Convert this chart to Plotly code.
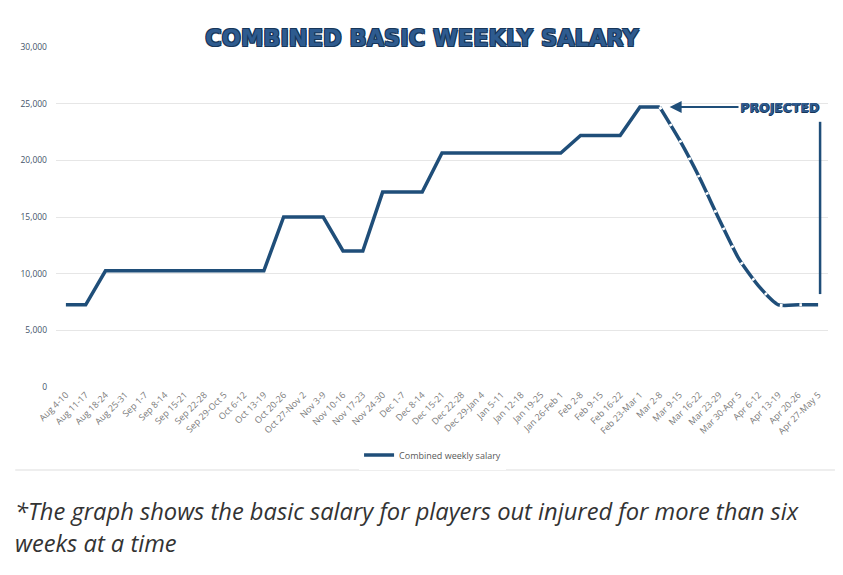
import plotly.graph_objects as go

weeks = ["Aug 4-10", "Aug 11-17", "Aug 18-24", "Aug 25-31", "Sep 1-7", "Sep 8-14",
         "Sep 15-21", "Sep 22-28", "Sep 29-Oct 5", "Oct 6-12", "Oct 13-19", "Oct 20-26",
         "Oct 27-Nov 2", "Nov 3-9", "Nov 10-16", "Nov 17-23", "Nov 24-30", "Dec 1-7",
         "Dec 8-14", "Dec 15-21", "Dec 22-28", "Dec 29-Jan 4", "Jan 5-11", "Jan 12-18",
         "Jan 19-25", "Jan 26-Feb 1", "Feb 2-8", "Feb 9-15", "Feb 16-22", "Feb 23-Mar 1",
         "Mar 2-8", "Mar 9-15", "Mar 16-22", "Mar 23-29", "Mar 30-Apr 5", "Apr 6-12",
         "Apr 13-19", "Apr 20-26", "Apr 27-May 5"]

actual_salary = [7250, 7250, 10250, 10250, 10250, 10250, 10250, 10250, 10250, 10250,
                 10250, 15000, 15000, 15000, 12000, 12000, 17200, 17200, 17200, 20650,
                 20650, 20650, 20650, 20650, 20650, 20650, 22200, 22200, 22200, 24700,
                 24700]
projected_weeks = weeks[30:]
projected_salary = [24700, 21800, 18500, 14800, 11300, 8900, 7250, 7250, 7250]

y_ticks = [0, 5000, 10000, 15000, 20000, 25000, 30000]

BLUE = "#1f4e79"
TICK = "#7a7a7a"

# page has an 8px body margin: figure is placed at (8, 8)
OFF = 8
W, H = 843 - OFF, 575 - OFF
PL, PR, PT, PB = 51 - OFF, 828 - OFF, 47 - OFF, 387 - OFF  # plot area in figure px
PW, PH = PR - PL, PB - PT


def px(xp):
    return (xp - OFF - PL) / PW


def py(yp):
    return (PB - (yp - OFF)) / PH


fig = go.Figure()
fig.add_trace(go.Scatter(x=weeks[:31], y=actual_salary, mode="lines",
                         name="Combined weekly salary",
                         line=dict(color=BLUE, width=3.5)))
fig.add_trace(go.Scatter(x=projected_weeks, y=projected_salary, mode="lines",
                         showlegend=False, hoverinfo="skip",
                         line=dict(color=BLUE, width=3.5, shape="spline", smoothing=0.6)))
fig.add_trace(go.Scatter(x=projected_weeks, y=projected_salary, mode="lines",
                         showlegend=False, hoverinfo="skip",
                         line=dict(color="white", width=3, shape="spline", smoothing=0.6,
                                   dash="2.5px,17px")))

fig.update_layout(
    width=W, height=H,
    margin=dict(l=PL, r=W - PR, t=PT, b=H - PB),
    paper_bgcolor="white", plot_bgcolor="white",
    font=dict(family="Open Sans, DejaVu Sans, sans-serif"),
    title=dict(text="COMBINED BASIC WEEKLY SALARY", xref="container",
               x=(422 - OFF) / W, xanchor="center",
               y=1 - (38 - OFF) / H, yanchor="middle",
               font=dict(family="DejaVu Sans", size=22.5, color="#2e5b8f", weight="bold",
                         shadow="1px 1px 0 #173659, -1px -1px 0 #173659, 1px -1px 0 #173659, -1px 1px 0 #173659")),
    showlegend=True,
    legend=dict(orientation="h", x=px(430), xanchor="center", y=py(455), yanchor="middle",
                font=dict(size=9, color="#595959"), itemwidth=30),
    xaxis=dict(type="category", range=[-0.5, 38.5], tickangle=-45,
               tickfont=dict(size=9, color=TICK), showgrid=False, zeroline=False,
               showline=False, ticks=""),
    yaxis=dict(range=[0, 30000], tickvals=y_ticks, tickformat=",",
               tickfont=dict(size=8.5, color="#44546a"), gridcolor="#e6e6e6",
               zeroline=False, showline=False, ticks="", ticklabelstandoff=8),
)

fig.add_annotation(x=30.5, y=24700, xref="x", yref="y",
                   ax=36.05, ay=24700, axref="x", ayref="y",
                   text="<b>PROJECTED</b>", showarrow=True, arrowhead=2, arrowsize=1.2,
                   arrowwidth=2, arrowcolor=BLUE,
                   font=dict(family="DejaVu Sans", size=12.5, color="#2e5b8f",
                             shadow="1px 0px 0 #173659, 0px 1px 0 #173659"))
fig.add_shape(type="line", xref="x", yref="y", x0=38.1, x1=38.1, y0=23400, y1=8200,
              line=dict(color=BLUE, width=2.5))
fig.add_shape(type="line", xref="paper", yref="paper",
              x0=px(10), x1=px(835), y0=py(470), y1=py(470),
              line=dict(color="#dddddd", width=1))
fig.add_annotation(xref="paper", yref="paper", x=px(8), y=py(511),
                   xanchor="left", yanchor="middle", showarrow=False,
                   text="<i>*The graph shows the basic salary for players out injured for more than six</i>",
                   font=dict(family="Open Sans", size=23.7, color="#333333"))
fig.add_annotation(xref="paper", yref="paper", x=px(8), y=py(543),
                   xanchor="left", yanchor="middle", showarrow=False,
                   text="<i>weeks at a time</i>",
                   font=dict(family="Open Sans", size=23.7, color="#333333"))

fig.write_html("out.html")
